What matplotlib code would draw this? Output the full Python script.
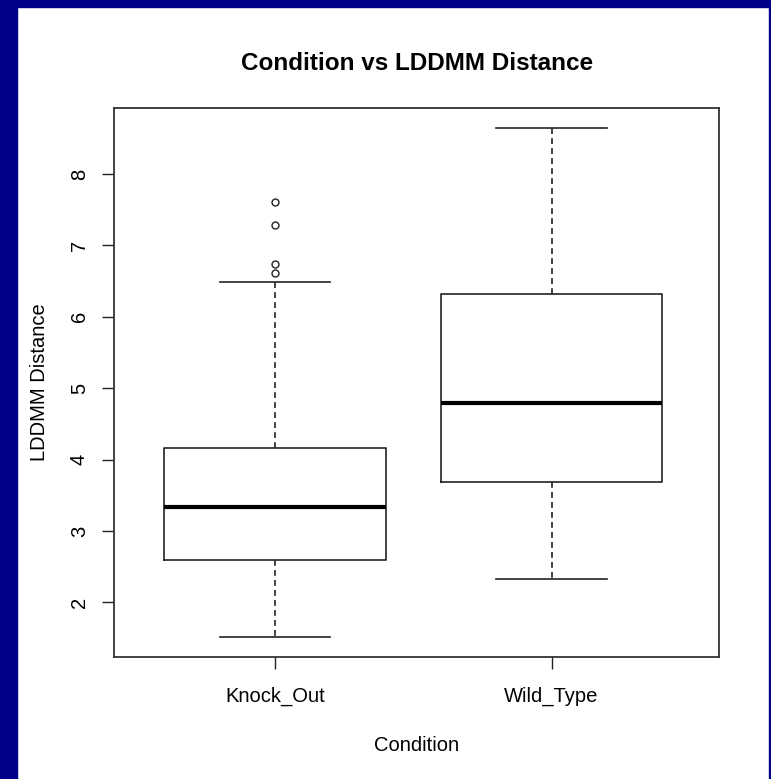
import matplotlib
matplotlib.use('Agg')
from matplotlib import pyplot as plt
from matplotlib.patches import Rectangle

plt.rcParams['font.family'] = ['Liberation Sans', 'DejaVu Sans']

# values
groups = ['Knock_Out', 'Wild_Type']
lower_whisker = [1.52, 2.33]
q1 = [2.59, 3.69]
median = [3.33, 4.80]
q3 = [4.16, 6.32]
upper_whisker = [6.49, 8.64]
outliers_ko = [7.61, 7.29, 6.74, 6.61]
outliers_wt = []
yticks = [2, 3, 4, 5, 6, 7, 8]

stats = []
for i, name in enumerate(groups):
    stats.append({'label': name, 'whislo': lower_whisker[i], 'q1': q1[i],
                  'med': median[i], 'q3': q3[i], 'whishi': upper_whisker[i],
                  'fliers': [outliers_ko, outliers_wt][i]})

fig = plt.figure(figsize=(7.71, 7.79), dpi=100)
fig.patch.set_facecolor('white')

# navy frame around the picture
navy = '#000088'
fig.patches.append(Rectangle((0, 0), 17/771, 1, transform=fig.transFigure, color=navy, zorder=-1))
fig.patches.append(Rectangle((0, 1 - 7/779), 1, 7/779, transform=fig.transFigure, color=navy, zorder=-1))
fig.patches.append(Rectangle((1 - 2/771, 0), 2/771, 1, transform=fig.transFigure, color=navy, zorder=-1))

ax = fig.add_axes([0.1485, 0.157, 0.784, 0.7048])
lc = '#222222'
ax.bxp(stats, positions=[1, 2], widths=0.8, showfliers=True,
       boxprops=dict(color=lc, linewidth=1.2),
       whiskerprops=dict(color=lc, linewidth=1.2, linestyle=(0, (3.5, 2.5))),
       capprops=dict(color=lc, linewidth=1.2),
       medianprops=dict(color='black', linewidth=3.0, solid_capstyle='butt'),
       flierprops=dict(marker='o', markersize=5, markerfacecolor='none',
                       markeredgecolor=lc, markeredgewidth=1.0))

ax.set_xlim(0.42, 2.605)
ax.set_ylim(1.24, 8.93)
ax.set_yticks(yticks)
ax.set_yticklabels([str(t) for t in yticks], rotation=90, va='center')
ax.set_xticks([1, 2])
ax.set_xticklabels(groups)
ax.tick_params(axis='both', length=8.5, width=1.0, color=lc, labelsize=14.5, direction='out')
ax.tick_params(axis='x', pad=13)
ax.tick_params(axis='y', pad=10)
for s in ax.spines.values():
    s.set_linewidth(1.3)
    s.set_color('#333333')

ax.set_title('Condition vs LDDMM Distance', fontsize=17.5, fontweight='bold', pad=27)
ax.set_xlabel('Condition', fontsize=14.5, labelpad=22)
ax.set_ylabel('LDDMM Distance', fontsize=14.5, labelpad=15)

fig.savefig('out.png', dpi=100, facecolor=fig.get_facecolor())
